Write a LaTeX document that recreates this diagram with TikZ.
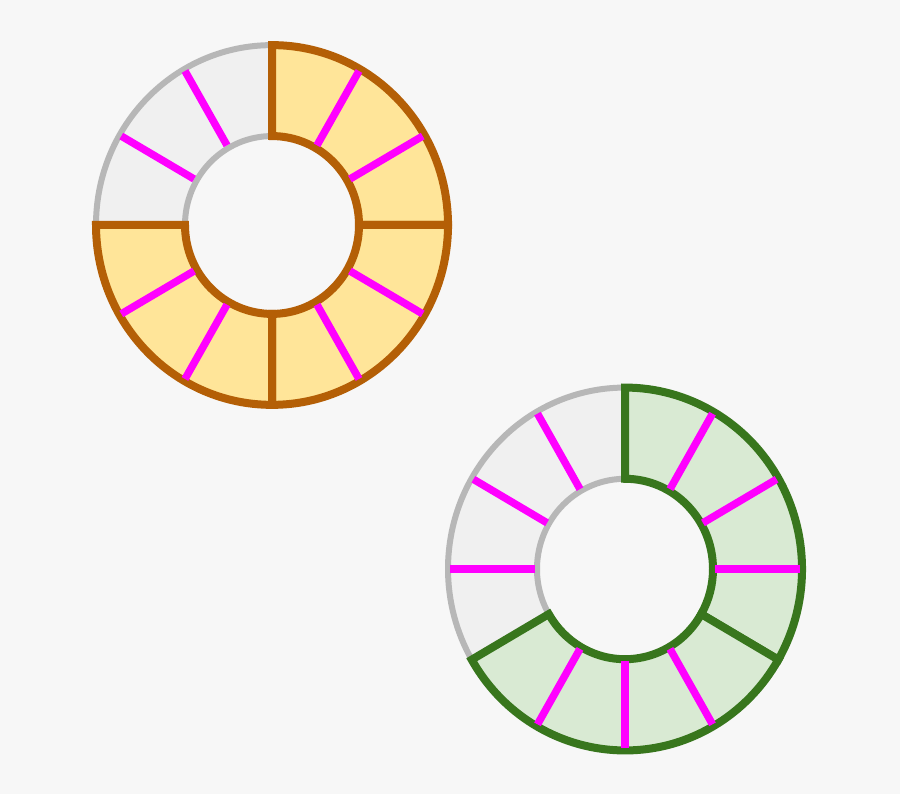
\documentclass[tikz,border=0pt]{standalone}
\usepackage{tikz}
\definecolor{bgc}{HTML}{F7F7F7}
\definecolor{grayfill}{HTML}{F0F0F0}
\definecolor{grayline}{HTML}{B7B7B7}
\definecolor{orangefill}{HTML}{FFE599}
\definecolor{orangeline}{HTML}{B45F06}
\definecolor{greenfill}{HTML}{D9EAD3}
\definecolor{greenline}{HTML}{38761D}
\definecolor{spokec}{HTML}{FF00FF}
\tikzset{
  graysec/.style={fill=grayfill,draw=grayline,line width=6pt,line join=miter},
  orangesec/.style={fill=orangefill,draw=orangeline,line width=8pt,line join=miter},
  greensec/.style={fill=greenfill,draw=greenline,line width=8pt,line join=miter},
  spoke/.style={draw=spokec,line width=7.5pt}
}
% #1 style, #2 start angle, #3 end angle, #4 inner r, #5 outer R
\newcommand\ringsector[5]{%
  \path[#1] (#2:#5) arc[start angle=#2,end angle=#3,radius=#5]
    -- (#3:#4) arc[start angle=#3,end angle=#2,radius=#4] -- cycle;}
\begin{document}
\begin{tikzpicture}[x=1pt,y=1pt]
\fill[bgc] (0,0) rectangle (900,794);
\useasboundingbox (0,0) rectangle (900,794);
% ring 1
\begin{scope}[shift={(272,569)},yscale=1.022]
  \ringsector{graysec}{90}{180}{87}{176}
  \ringsector{orangesec}{0}{90}{87}{176}
  \ringsector{orangesec}{-90}{0}{87}{176}
  \ringsector{orangesec}{-180}{-90}{87}{176}
  \foreach \a in {150,120,60,30,-30,-60,-120,-150}
    \draw[spoke] (\a:90) -- (\a:174);
\end{scope}
% ring 2
\begin{scope}[shift={(625,225)},yscale=1.025]
  \ringsector{graysec}{90}{210}{88}{177}
  \ringsector{greensec}{-30}{90}{88}{177}
  \ringsector{greensec}{-150}{-30}{88}{177}
  \foreach \a in {180,150,120,60,30,0,-60,-90,-120}
    \draw[spoke] (\a:90) -- (\a:175);
\end{scope}
\end{tikzpicture}
\end{document}
